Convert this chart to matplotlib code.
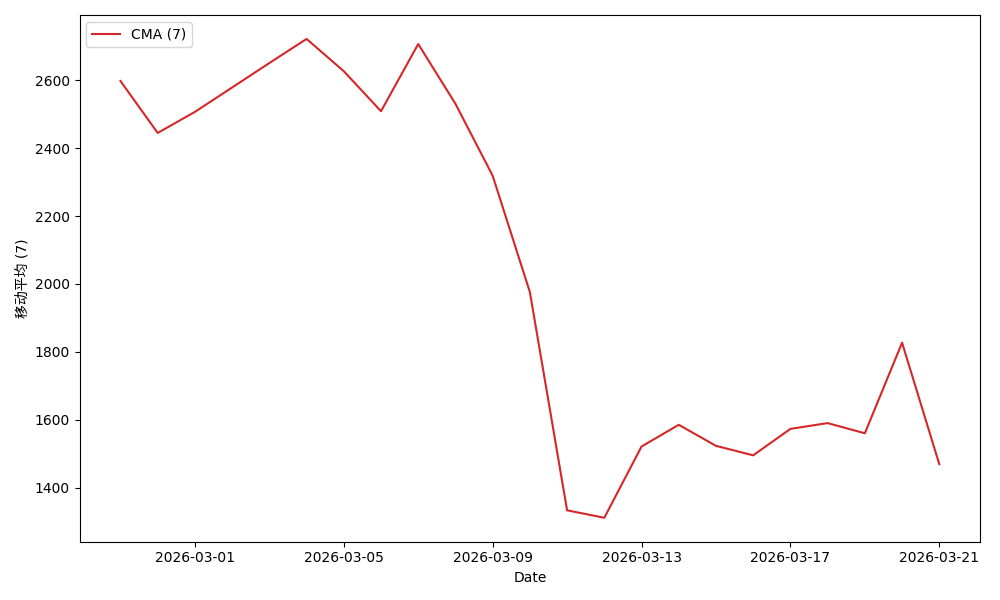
import numpy as np
import pandas as pd
import matplotlib
matplotlib.use("Agg")
import matplotlib.pyplot as plt

plt.rcParams['font.family'] = ['DejaVu Sans', 'Noto Sans CJK SC']

# Data
dates = pd.date_range("2026-02-27", "2026-03-21", freq="D")
cma_values = [2598, 2445, 2507, 2579, 2651, 2722, 2627, 2509, 2707, 2531,
              2319, 1976, 1333, 1311, 1521, 1585, 1523, 1495, 1573, 1590,
              1560, 1827, 1469]
tick_dates = pd.to_datetime(["2026-03-01", "2026-03-05", "2026-03-09",
                             "2026-03-13", "2026-03-17", "2026-03-21"])

fig, ax = plt.subplots(figsize=(10, 6), dpi=100)
ax.plot(dates, cma_values, color='tab:red', label='CMA (7)')

ax.set_xticks(tick_dates)
ax.set_xticklabels([d.strftime("%Y-%m-%d") for d in tick_dates])
ax.set_xlabel('Date')
ax.set_ylabel('移动平均 (7)')
ax.legend(loc='upper left')

plt.tight_layout()
plt.savefig("out.png")
